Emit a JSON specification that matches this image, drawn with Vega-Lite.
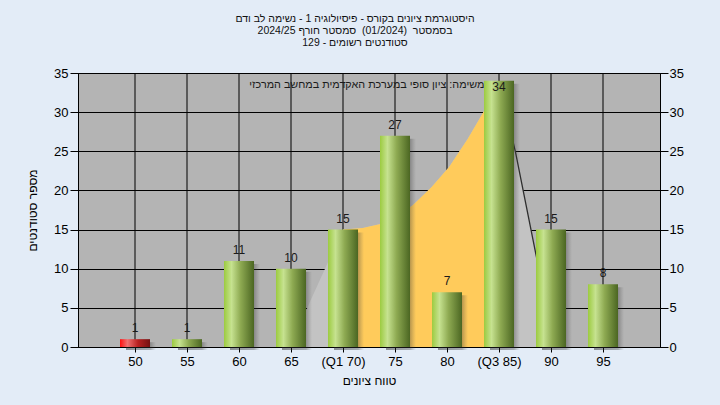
{
  "$schema": "https://vega.github.io/schema/vega-lite/v6.json",
  "width": 582,
  "height": 274,
  "autosize": {"type": "none"},
  "padding": {"left": 78, "top": 73, "right": 60, "bottom": 58},
  "background": "#E3ECF7",
  "config": {
    "font": "Liberation Sans",
    "view": {"fill": "#B4B4B4", "stroke": "#000000", "strokeWidth": 1},
    "axis": {
      "domainColor": "#000000",
      "tickColor": "#000000",
      "gridColor": "#000000",
      "gridOpacity": 1,
      "gridWidth": 1,
      "labelColor": "#000000",
      "titleColor": "#000000",
      "labelFont": "Liberation Sans",
      "titleFont": "Liberation Sans",
      "titleFontWeight": "normal",
      "labelFontSize": 13,
      "titleFontSize": 12
    }
  },
  "title": {
    "text": [
      "היסטוגרמת ציונים בקורס - פיסיולוגיה 1 - נשימה לב ודם",
      "בסמסטר\u00a0\u00a0(01/2024)\u00a0\u00a0סמסטר חורף 2024/25",
      "סטודנטים רשומים - 129"
    ],
    "fontSize": 10.5,
    "fontWeight": "normal",
    "color": "#111111",
    "anchor": "middle",
    "frame": "bounds",
    "lineHeight": 12,
    "offset": 19
  },
  "datasets": {
    "bars": [
      {"score": 50, "count": 1},
      {"score": 55, "count": 1},
      {"score": 60, "count": 11},
      {"score": 65, "count": 10},
      {"score": 70, "count": 15},
      {"score": 75, "count": 27},
      {"score": 80, "count": 7},
      {"score": 85, "count": 34},
      {"score": 90, "count": 15},
      {"score": 95, "count": 8}
    ],
    "curve": [
      {"score": 65, "value": 0},
      {"score": 66.6, "value": 5.1},
      {"score": 68.3, "value": 10.1},
      {"score": 70, "value": 15},
      {"score": 71.9, "value": 15.2},
      {"score": 73.6, "value": 15.7},
      {"score": 75, "value": 16.6},
      {"score": 76.7, "value": 18.1},
      {"score": 78.5, "value": 20.4},
      {"score": 80.2, "value": 23},
      {"score": 82, "value": 26.6},
      {"score": 83.8, "value": 30.7},
      {"score": 85, "value": 34},
      {"score": 86.6, "value": 24.8},
      {"score": 88.6, "value": 11.5},
      {"score": 90.3, "value": 0}
    ],
    "note": [
      {"score": 72.6, "value": 33.5, "label": "במשימה: ציון סופי במערכת האקדמית במחשב המרכזי"}
    ]
  },
  "encoding": {
    "x": {
      "field": "score",
      "type": "quantitative",
      "scale": {"domain": [45, 100], "nice": false, "zero": false},
      "axis": {
        "values": [50, 55, 60, 65, 70, 75, 80, 85, 90, 95],
        "labelExpr": "datum.value == 70 ? '(Q1 70)' : datum.value == 85 ? '(Q3 85)' : datum.value",
        "grid": false,
        "tickSize": 5,
        "labelPadding": 3,
        "title": "טווח ציונים",
        "titlePadding": 7,
        "labelFlush": false,
        "labelOverlap": false
      }
    }
  },
  "layer": [
    {
      "data": {"name": "bars"},
      "mark": {"type": "rule", "color": "#000000", "strokeWidth": 1},
      "encoding": {}
    },
    {
      "data": {"name": "curve"},
      "mark": {"type": "area", "color": "#C3C3C3", "opacity": 1},
      "encoding": {
        "y": {
          "field": "value",
          "type": "quantitative",
          "scale": {"domain": [0, 35], "nice": false},
          "axis": {
            "orient": "left",
            "values": [0, 5, 10, 15, 20, 25, 30, 35],
            "grid": true,
            "tickSize": 8,
            "labelPadding": 2,
            "title": "מספר סטודנטים",
            "titlePadding": 14,
            "labelFlush": false
          }
        }
      }
    },
    {
      "data": {"name": "curve"},
      "transform": [{"filter": "datum.score >= 70 && datum.score <= 85"}],
      "mark": {"type": "area", "color": "#FFCB5B", "opacity": 1},
      "encoding": {
        "y": {
          "field": "value",
          "type": "quantitative",
          "axis": {
            "orient": "right",
            "values": [0, 5, 10, 15, 20, 25, 30, 35],
            "grid": false,
            "tickSize": 8,
            "labelPadding": 1,
            "title": null,
            "labelFlush": false
          }
        }
      }
    },
    {
      "data": {"name": "curve"},
      "transform": [{"filter": "datum.score >= 85"}],
      "mark": {"type": "line", "color": "#2E2E2E", "strokeWidth": 1.3},
      "encoding": {
        "y": {"field": "value", "type": "quantitative", "axis": null}
      }
    },
    {
      "data": {"name": "note"},
      "mark": {"type": "text", "fontSize": 10.8, "color": "#1A1A1A", "align": "center", "baseline": "middle"},
      "encoding": {
        "y": {"field": "value", "type": "quantitative", "axis": null},
        "text": {"field": "label"}
      }
    },
    {
      "data": {"name": "bars"},
      "mark": {
        "type": "bar",
        "size": 30,
        "xOffset": 6,
        "yOffset": 3,
        "color": {
          "gradient": "linear", "x1": 0, "x2": 1, "y1": 0, "y2": 0,
          "stops": [
            {"offset": 0, "color": "rgba(30,30,30,0.45)"},
            {"offset": 0.8, "color": "rgba(50,50,50,0.35)"},
            {"offset": 1, "color": "rgba(80,80,80,0)"}
          ]
        }
      },
      "encoding": {
        "y": {"field": "count", "type": "quantitative", "axis": null}
      }
    },
    {
      "data": {"name": "bars"},
      "transform": [{"filter": "datum.score > 50"}],
      "mark": {
        "type": "bar",
        "size": 30,
        "color": {
          "gradient": "linear", "x1": 0, "x2": 1, "y1": 0, "y2": 0,
          "stops": [
            {"offset": 0, "color": "#9CCB40"},
            {"offset": 0.25, "color": "#C6E290"},
            {"offset": 0.55, "color": "#8EAA52"},
            {"offset": 1, "color": "#4B6622"}
          ]
        }
      },
      "encoding": {
        "y": {"field": "count", "type": "quantitative", "axis": null}
      }
    },
    {
      "data": {"name": "bars"},
      "transform": [{"filter": "datum.score == 50"}],
      "mark": {
        "type": "bar",
        "size": 30,
        "color": {
          "gradient": "linear", "x1": 0, "x2": 1, "y1": 0, "y2": 0,
          "stops": [
            {"offset": 0, "color": "#FF1010"},
            {"offset": 0.25, "color": "#F07070"},
            {"offset": 0.6, "color": "#B82020"},
            {"offset": 1, "color": "#731010"}
          ]
        }
      },
      "encoding": {
        "y": {"field": "count", "type": "quantitative", "axis": null}
      }
    },
    {
      "data": {"name": "bars"},
      "transform": [{"filter": "datum.score != 85"}],
      "mark": {"type": "text", "fontSize": 12, "color": "#1A1A1A", "baseline": "bottom", "dy": -4},
      "encoding": {
        "y": {"field": "count", "type": "quantitative", "axis": null},
        "text": {"field": "count"}
      }
    },
    {
      "data": {"name": "bars"},
      "transform": [{"filter": "datum.score == 85"}],
      "mark": {"type": "text", "fontSize": 12, "color": "#1A1A1A", "baseline": "top", "dy": 1},
      "encoding": {
        "y": {"field": "count", "type": "quantitative", "axis": null},
        "text": {"field": "count"}
      }
    }
  ],
  "resolve": {"axis": {"y": "independent"}}
}
